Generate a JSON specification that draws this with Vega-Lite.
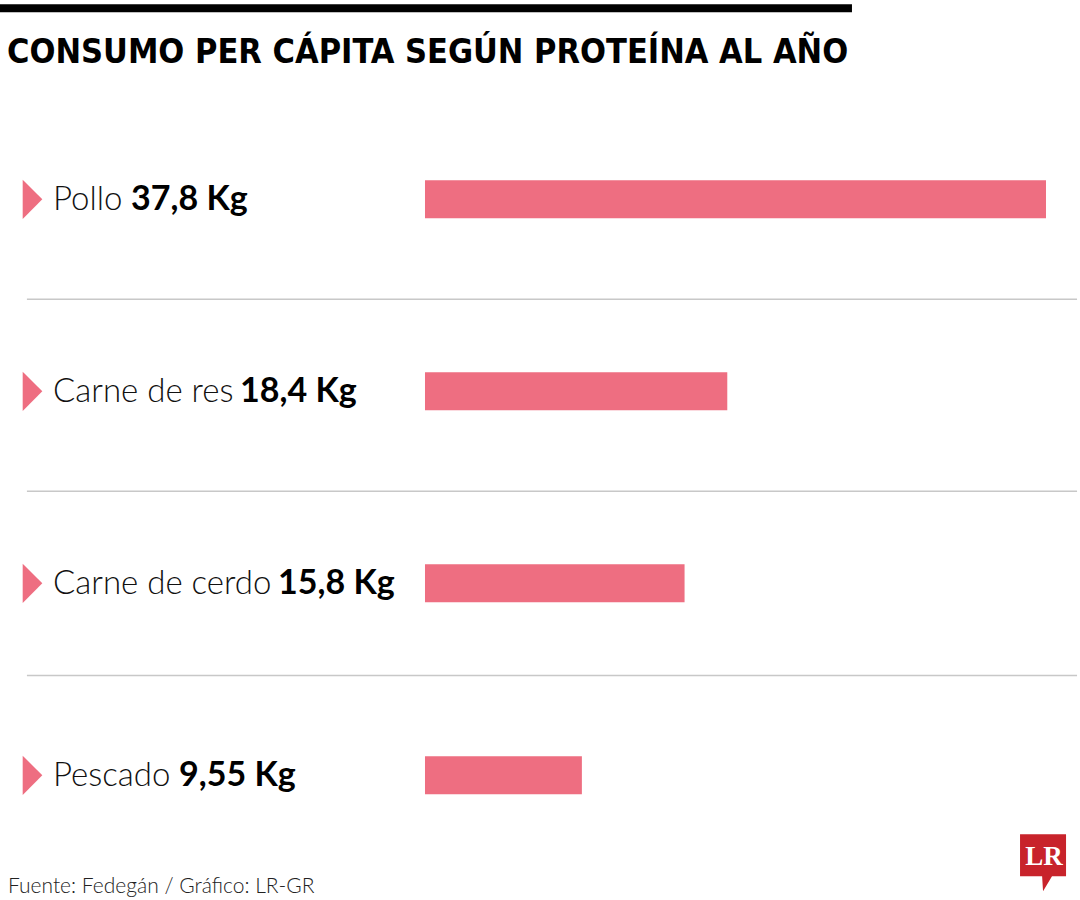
{
  "$schema": "https://vega.github.io/schema/vega-lite/v6.json",
  "width": 1080,
  "height": 900,
  "autosize": {"type": "fit", "contains": "padding"},
  "padding": 0,
  "background": "white",
  "view": {"stroke": null},
  "title": {
    "text": "CONSUMO PER CÁPITA SEGÚN PROTEÍNA AL AÑO",
    "anchor": "start",
    "frame": "group",
    "orient": "top",
    "baseline": "alphabetic",
    "offset": -97,
    "dx": 7,
    "font": "Liberation Sans Narrow, DejaVu Sans Condensed, Roboto",
    "fontSize": 34,
    "fontWeight": "bold",
    "color": "#000000"
  },
  "data": {
    "values": [
      {"name": "Pollo", "label": "37,8 Kg", "value": 37.8, "rank": 1},
      {"name": "Carne de res", "label": "18,4 Kg", "value": 18.4, "rank": 2},
      {"name": "Carne de cerdo", "label": "15,8 Kg", "value": 15.8, "rank": 3},
      {"name": "Pescado", "label": "9,55 Kg", "value": 9.55, "rank": 4}
    ]
  },
  "layer": [
    {
      "mark": {"type": "bar", "orient": "horizontal", "size": 38, "color": "#ee6e81"},
      "encoding": {
        "y": {
          "field": "rank",
          "type": "quantitative",
          "scale": {"domain": [-0.01198, 4.6234], "reverse": true, "nice": false, "zero": false},
          "axis": null
        },
        "x": {
          "field": "value",
          "type": "quantitative",
          "scale": {"domain": [-25.869, 39.870], "nice": false, "zero": false},
          "axis": null
        },
        "x2": {"datum": 0}
      }
    },
    {
      "mark": {"type": "point", "shape": "M-0.5,-1L0.5,0L-0.5,1Z", "size": 1537, "filled": true, "opacity": 1, "color": "#ee6e81", "strokeWidth": 0},
      "encoding": {
        "x": {"datum": -23.89},
        "y": {"field": "rank", "type": "quantitative"}
      }
    },
    {
      "mark": {"type": "text", "align": "left", "baseline": "alphabetic", "dy": 11, "font": "Lato", "fontWeight": 300, "fontSize": 33, "color": "#111111"},
      "encoding": {
        "x": {"datum": -22.643},
        "y": {"field": "rank", "type": "quantitative"},
        "text": {"field": "name"}
      }
    },
    {
      "transform": [
        {"calculate": "length(datum.name) - length(replace(datum.name, regexp('[r ]', 'g'), ''))", "as": "nNarrow"},
        {"calculate": "length(datum.name) - length(replace(datum.name, regexp('l', 'g'), ''))", "as": "nL"},
        {"calculate": "-22.643 + (-7 + 19 * (length(datum.name) - datum.nNarrow - datum.nL) + 10.5 * datum.nNarrow + 14 * datum.nL) / 16.4286", "as": "valX"}
      ],
      "mark": {"type": "text", "align": "left", "baseline": "alphabetic", "dy": 11, "font": "Lato", "fontWeight": "bold", "fontSize": 34, "color": "#000000"},
      "encoding": {
        "x": {"field": "valX", "type": "quantitative"},
        "y": {"field": "rank", "type": "quantitative"},
        "text": {"field": "label"}
      }
    },
    {
      "data": {"values": [{"pos": 1.52}, {"pos": 2.52}, {"pos": 3.48}]},
      "mark": {"type": "rule", "color": "#c8c8c8", "strokeWidth": 1.5},
      "encoding": {
        "y": {"field": "pos", "type": "quantitative"},
        "x": {"datum": -24.23},
        "x2": {"datum": 39.69}
      }
    },
    {
      "data": {"values": [{"bar": "top"}]},
      "mark": {"type": "rect", "color": "#000000"},
      "encoding": {
        "x": {"datum": -25.869},
        "x2": {"datum": 25.99},
        "y": {"datum": -0.015625},
        "y2": {"datum": 0.026}
      }
    },
    {
      "data": {"values": [{"source": "Fuente: Fedegán / Gráfico: LR-GR"}]},
      "mark": {"type": "text", "align": "left", "baseline": "alphabetic", "font": "Lato", "fontWeight": 300, "fontSize": 21, "color": "#222222"},
      "encoding": {
        "x": {"datum": -25.38},
        "y": {"datum": 4.6146},
        "text": {"field": "source"}
      }
    },
    {
      "data": {"values": [{"logo": "LR"}]},
      "mark": {"type": "point", "shape": "M-1,-0.913H1V0.913H0.39L0,1.565L-0.04,0.913H-1Z", "size": 2116, "filled": true, "opacity": 1, "color": "#c8232b", "strokeWidth": 0},
      "encoding": {
        "x": {"datum": 37.62},
        "y": {"datum": 4.4167}
      }
    },
    {
      "data": {"values": [{"logo": "LR"}]},
      "mark": {"type": "text", "align": "center", "baseline": "alphabetic", "font": "Liberation Serif", "fontWeight": "bold", "fontSize": 27, "color": "#ffffff"},
      "encoding": {
        "x": {"datum": 37.678},
        "y": {"datum": 4.46875},
        "text": {"field": "logo"}
      }
    }
  ]
}
